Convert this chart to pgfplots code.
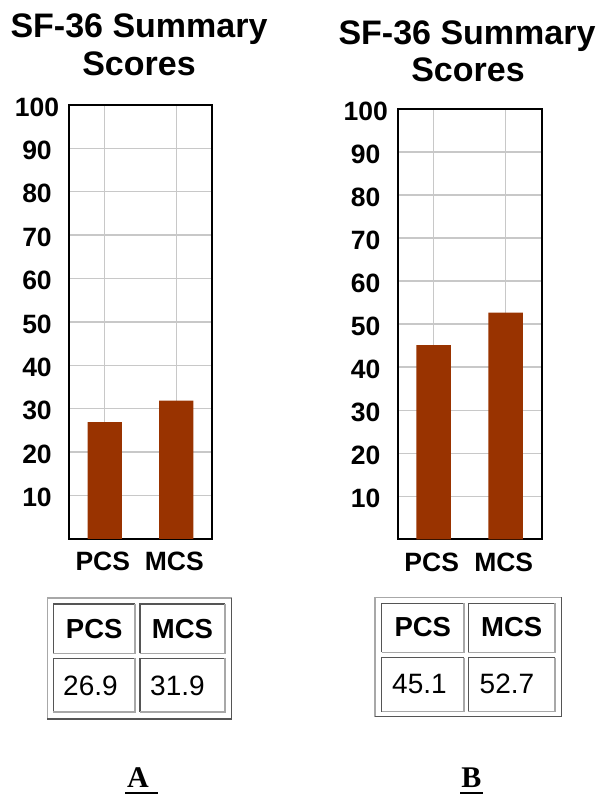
\documentclass[border=0pt]{standalone}
\usepackage{fontspec}
\setmainfont{Liberation Sans}
\newfontfamily\timesfont{Liberation Serif}
\usepackage{pgfplots}
\pgfplotsset{compat=1.18}
\definecolor{barcol}{HTML}{993300}
\definecolor{gridcol}{HTML}{C8C8C8}
\definecolor{tdark}{HTML}{555555}
\definecolor{tlight}{HTML}{A8A8A8}

\pgfplotsset{sfstyle/.style={
  scale only axis, anchor=south west,
  xmin=-0.5, xmax=1.5, ymin=0, ymax=100,
  xtick={0,1}, xticklabels={PCS,MCS},
  ytick={10,20,...,100},
  grid=major, major grid style={gridcol, line width=1.4pt},
  axis line style={black, line width=1.7pt},
  major tick length=0pt,
  /pgf/number format/assume math mode=true,
  tick label style={font=\bfseries\fontsize{26.5}{30}\selectfont, inner sep=0pt},
  yticklabel style={anchor=center, xshift=-32pt, yshift=-2pt},
  xticklabel style={anchor=north, yshift=-13pt, xshift=-2pt},
  ybar, bar width=0.48,
}}

\newcommand{\inset}[4]{%
  \draw[tdark, line width=1.5pt] (#1pt,#4pt) -- (#1pt,#2pt) -- (#3pt,#2pt);
  \draw[tlight, line width=1.5pt] (#3pt,#2pt) -- (#3pt,#4pt) -- (#1pt,#4pt);}
\newcommand{\outset}[4]{%
  \draw[tlight, line width=1.5pt] (#1pt,#4pt) -- (#1pt,#2pt) -- (#3pt,#2pt);
  \draw[tdark, line width=1.5pt] (#3pt,#2pt) -- (#3pt,#4pt) -- (#1pt,#4pt);}

\begin{document}
\begin{tikzpicture}
\useasboundingbox (0,0) rectangle (602pt,795pt);

% ---- Panel A ----
\begin{axis}[sfstyle, at={(69pt,256pt)}, width=143pt, height=434pt]
\addplot[fill=barcol, draw=none] coordinates {(0,26.9) (1,31.9)};
\end{axis}
\node[anchor=base, font=\bfseries\fontsize{34}{40}\selectfont] at (139pt,757pt) {SF-36 Summary};
\node[anchor=base, font=\bfseries\fontsize{34}{40}\selectfont] at (139pt,719pt) {Scores};

% ---- Panel B ----
\begin{axis}[sfstyle, at={(397.7pt,255.7pt)}, width=144pt, height=430.3pt]
\addplot[fill=barcol, draw=none] coordinates {(0,45.1) (1,52.7)};
\end{axis}
\node[anchor=base, font=\bfseries\fontsize{34}{40}\selectfont] at (467pt,750pt) {SF-36 Summary};
\node[anchor=base, font=\bfseries\fontsize{34}{40}\selectfont] at (468pt,713pt) {Scores};

% ---- Table A ----
\outset{47.3}{197}{231.7}{76}
\inset{53.3}{191}{135}{141.7}
\inset{140}{191}{225}{141.7}
\inset{53.3}{136.7}{135}{83}
\inset{140}{136.7}{225}{83}
\node[anchor=base, inner sep=0pt, font=\bfseries\fontsize{27.5}{30}\selectfont] at (94.2pt,156.7pt) {PCS};
\node[anchor=base, inner sep=0pt, font=\bfseries\fontsize{27.5}{30}\selectfont] at (182.5pt,156.7pt) {MCS};
\node[anchor=base west, inner sep=0pt, font=\fontsize{28}{30}\selectfont] at (63pt,99.3pt) {26.9};
\node[anchor=base west, inner sep=0pt, font=\fontsize{28}{30}\selectfont] at (150pt,99.3pt) {31.9};

% ---- Table B ----
\outset{375}{197.7}{561.7}{78.3}
\inset{381.7}{191.7}{464}{142.7}
\inset{468.3}{191.7}{555}{142.7}
\inset{381.7}{137.3}{464}{83.3}
\inset{468.3}{137.3}{555}{83.3}
\node[anchor=base, inner sep=0pt, font=\bfseries\fontsize{27.5}{30}\selectfont] at (422.8pt,158.3pt) {PCS};
\node[anchor=base, inner sep=0pt, font=\bfseries\fontsize{27.5}{30}\selectfont] at (511.7pt,158.3pt) {MCS};
\node[anchor=base west, inner sep=0pt, font=\fontsize{28}{30}\selectfont] at (392pt,101.7pt) {45.1};
\node[anchor=base west, inner sep=0pt, font=\fontsize{28}{30}\selectfont] at (479.5pt,101.7pt) {52.7};

% ---- Panel labels ----
\node[anchor=base, inner sep=0pt, font=\timesfont\bfseries\fontsize{30}{34}\selectfont] at (138pt,7.3pt) {A};
\draw[line width=2.5pt] (125pt,2pt) -- (158pt,2pt);
\node[anchor=base, inner sep=0pt, font=\timesfont\bfseries\fontsize{30}{34}\selectfont] at (471.3pt,7.3pt) {B};
\draw[line width=2.5pt] (460pt,2pt) -- (483.3pt,2pt);
\end{tikzpicture}
\end{document}
